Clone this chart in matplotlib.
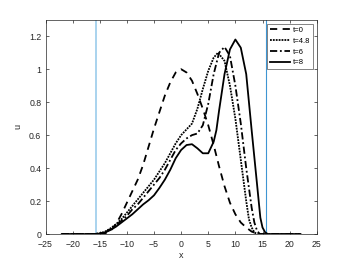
import matplotlib
matplotlib.use("Agg")
import matplotlib.pyplot as plt

# values
x0 = [-22, -15, -14, -13, -12, -11, -10, -9, -8, -7, -6, -5, -4, -3, -2, -1, 0,
      1, 2, 3, 4, 5, 6, 7, 8, 9, 10, 11, 12, 13, 14, 15, 22]
u0 = [0, 0, 0.005, 0.02, 0.06, 0.12, 0.19, 0.26, 0.33, 0.42, 0.53, 0.64, 0.74,
      0.84, 0.92, 0.98, 1.0, 0.98, 0.93, 0.85, 0.76, 0.66, 0.54, 0.41, 0.29,
      0.19, 0.12, 0.07, 0.04, 0.015, 0.003, 0, 0]

x48 = [-22, -16, -15, -14, -13, -12, -11, -10, -9, -8, -7, -6, -5, -4, -3, -2,
       -1, 0, 1, 2, 3, 4, 5, 6, 6.8, 8, 9, 10, 11, 12, 12.5, 13, 13.5, 14, 22]
u48 = [0, 0, 0.005, 0.015, 0.035, 0.06, 0.09, 0.13, 0.17, 0.21, 0.25, 0.29,
       0.33, 0.38, 0.43, 0.49, 0.55, 0.6, 0.635, 0.67, 0.76, 0.88, 0.99, 1.07,
       1.1, 1.05, 0.9, 0.7, 0.45, 0.2, 0.09, 0.04, 0.01, 0, 0]

x6 = [-22, -16, -15, -14, -13, -12, -11, -10, -9, -8, -7, -6, -5, -4, -3, -2,
      -1, 0, 1, 2, 3, 4, 5, 6, 7, 8, 9, 10, 11, 12, 13, 13.5, 14, 14.5, 22]
u6 = [0, 0, 0.004, 0.012, 0.03, 0.055, 0.08, 0.11, 0.15, 0.18, 0.22, 0.26,
      0.3, 0.34, 0.39, 0.45, 0.51, 0.55, 0.58, 0.6, 0.61, 0.66, 0.79, 0.97,
      1.1, 1.135, 1.08, 0.9, 0.67, 0.4, 0.16, 0.07, 0.02, 0, 0]

x8 = [-22, -16, -15, -14, -13, -12, -11, -10, -9, -8, -7, -6, -5, -4, -3, -2,
      -1, 0, 1, 2, 3, 4, 5, 6, 6.5, 7, 8, 9, 10, 11, 12, 13, 14, 14.6, 15,
      15.5, 16, 22]
u8 = [0, 0, 0.003, 0.01, 0.025, 0.045, 0.07, 0.095, 0.12, 0.15, 0.18, 0.205,
      0.235, 0.28, 0.33, 0.39, 0.46, 0.51, 0.54, 0.545, 0.52, 0.49, 0.49, 0.56,
      0.63, 0.75, 0.97, 1.12, 1.18, 1.13, 0.97, 0.63, 0.3, 0.1, 0.04, 0.01, 0, 0]

labels = ["t=0", "t=4.8", "t=6", "t=8"]
edge = 15.7

plt.rcParams['font.family'] = ['Liberation Sans', 'DejaVu Sans']
fig = plt.figure(figsize=(3.5, 2.63), dpi=100)
ax = fig.add_axes([0.13, 0.11, 0.775, 0.815])

ax.axvline(-edge, color='#a9d3ee', lw=1.4)
ax.axvline(edge, color='#3f95d2', lw=0.8)

ax.plot(x0, u0, color='k', lw=1.3, ls=(0, (4, 3)), label=labels[0])
ax.plot(x48, u48, color='k', lw=1.3, ls=(0, (1, 0.6)), label=labels[1])
ax.plot(x6, u6, color='k', lw=1.3, ls=(0, (4, 1.5, 1, 1.5)), label=labels[2])
ax.plot(x8, u8, color='k', lw=1.3, ls='-', label=labels[3])

ax.set_xlim(-25, 25)
ax.set_ylim(0, 1.3)
ax.set_xticks(range(-25, 26, 5))
ax.set_yticks([0, 0.2, 0.4, 0.6, 0.8, 1, 1.2])
ax.set_yticklabels(["0", "0.2", "0.4", "0.6", "0.8", "1", "1.2"])
ax.tick_params(direction='in', top=True, right=True, length=2.5, width=0.5,
               labelsize=6.3, colors='#262626')
ax.tick_params(axis='x', pad=4)
ax.tick_params(axis='y', pad=3)
for s in ax.spines.values():
    s.set_linewidth(0.5)
    s.set_color('#262626')
ax.set_xlabel("x", fontsize=6.5, color='#262626', labelpad=2)
ax.set_ylabel("u", fontsize=6.5, color='#262626', labelpad=5)

leg = ax.legend(loc='upper right', fontsize=5.5, frameon=True, fancybox=False,
                handlelength=2.6, handletextpad=0.3, borderpad=0.4,
                labelspacing=0.45, borderaxespad=0.5)
leg.get_frame().set_edgecolor('#262626')
leg.get_frame().set_linewidth(0.5)

fig.savefig("out.png", dpi=100)
